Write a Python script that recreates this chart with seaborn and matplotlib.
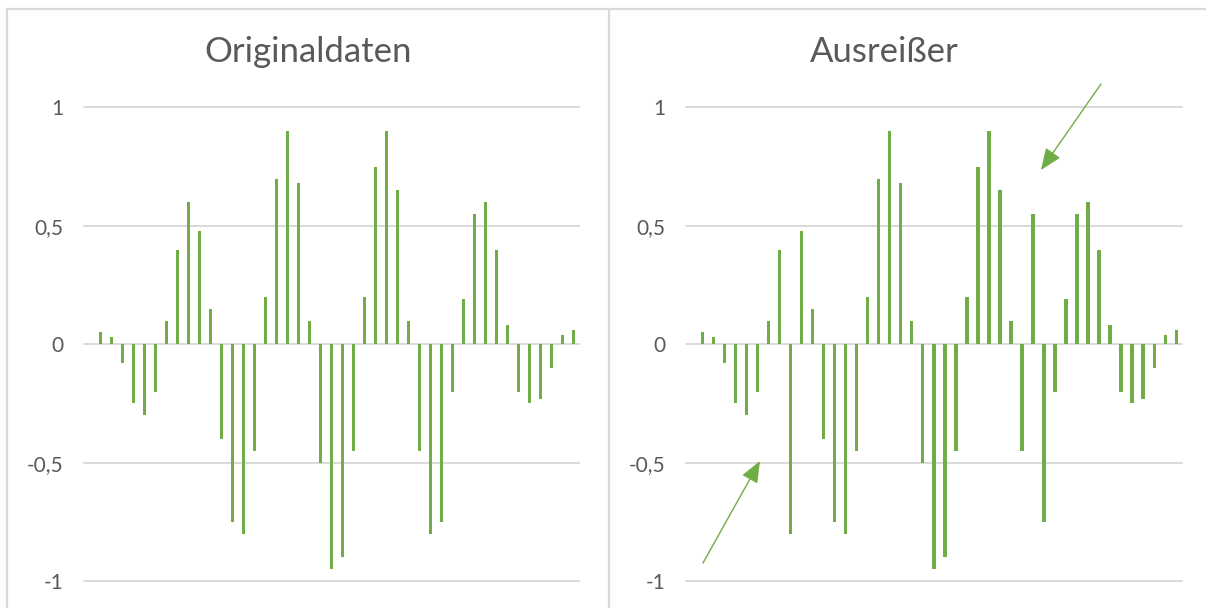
import matplotlib
matplotlib.use("Agg")
import matplotlib.pyplot as plt
from matplotlib.lines import Line2D
import numpy as np
import pandas as pd
import seaborn as sns

# Sample index (0..44) and the two signal series
samples = list(range(45))
original = [0.0, 0.05, 0.03, -0.08, -0.25, -0.30, -0.20, 0.10, 0.40, 0.60, 0.48,
            0.15, -0.40, -0.75, -0.80, -0.45, 0.20, 0.70, 0.90, 0.68, 0.10,
            -0.50, -0.95, -0.90, -0.45, 0.20, 0.75, 0.90, 0.65, 0.10, -0.45,
            -0.80, -0.75, -0.20, 0.19, 0.55, 0.60, 0.40, 0.08, -0.20, -0.25,
            -0.23, -0.10, 0.04, 0.06]
outliers = [0.0, 0.05, 0.03, -0.08, -0.25, -0.30, -0.20, 0.10, 0.40, -0.80, 0.48,
            0.15, -0.40, -0.75, -0.80, -0.45, 0.20, 0.70, 0.90, 0.68, 0.10,
            -0.50, -0.95, -0.90, -0.45, 0.20, 0.75, 0.90, 0.65, 0.10, -0.45,
            0.55, -0.75, -0.20, 0.19, 0.55, 0.60, 0.40, 0.08, -0.20, -0.25,
            -0.23, -0.10, 0.04, 0.06]
titles = ["Originaldaten", "Ausreißer"]
y_ticks = [-1, -0.5, 0, 0.5, 1]
y_tick_labels = ["-1", "-0,5", "0", "0,5", "1"]

GREEN = "#70AD47"
GRID = "#D9D9D9"
TEXT = "#595959"

sns.set_theme(style="white")
plt.rcParams["font.family"] = ["Lato", "DejaVu Sans"]

W, H = 1206, 608
fig = plt.figure(figsize=(W / 100, H / 100), dpi=100)

def px_axes(x0, x1, y_top, y_bot):
    return fig.add_axes([x0 / W, 1 - y_bot / H, (x1 - x0) / W, (y_bot - y_top) / H])

panels = [
    (px_axes(84, 579.3, 107.5, 581), original, titles[0], 308),
    (px_axes(686, 1181.7, 107.5, 581), outliers, titles[1], 884),
]

for ax, values, title, tx in panels:
    df = pd.DataFrame({"sample": samples, "value": values})
    sns.barplot(data=df, x="sample", y="value", ax=ax, color=GREEN,
                saturation=1, width=0.3, linewidth=0, zorder=3)
    ax.set_xlim(-0.5, len(samples) - 0.5)
    ax.set_ylim(-1, 1)
    ax.set_yticks(y_ticks)
    ax.set_yticklabels(y_tick_labels)
    ax.set_xticks([])
    ax.set_xlabel("")
    ax.set_ylabel("")
    ax.tick_params(axis="y", length=0, pad=15, labelsize=15, labelcolor=TEXT)
    for s in ax.spines.values():
        s.set_visible(False)
    for t in y_ticks:
        ax.axhline(t, color=GRID, linewidth=1.4, zorder=1, clip_on=False)
    fig.text(tx / W, 1 - 52 / H, title, ha="center", va="center",
             fontsize=25, color=TEXT, fontweight="normal")

# Chart frames
def fig_line(xs, ys):
    fig.add_artist(Line2D([x / W for x in xs], [1 - y / H for y in ys],
                          color=GRID, linewidth=1.6))

fig_line([7, W], [9, 9])
fig_line([7, 7], [9, H])
fig_line([609, 609], [9, H])

# Arrows pointing at the two outliers
arrow_style = dict(arrowstyle="-|>,head_length=1.1,head_width=0.45",
                   color=GREEN, linewidth=1.0, shrinkA=0, shrinkB=0)
fig.add_artist(plt.Annotation("", xy=(760, H - 461), xytext=(703, H - 563),
                              xycoords="figure pixels", textcoords="figure pixels",
                              arrowprops=arrow_style))
fig.add_artist(plt.Annotation("", xy=(1041, H - 170), xytext=(1101, H - 84),
                              xycoords="figure pixels", textcoords="figure pixels",
                              arrowprops=arrow_style))

fig.savefig("out.png", dpi=100, facecolor="white")
